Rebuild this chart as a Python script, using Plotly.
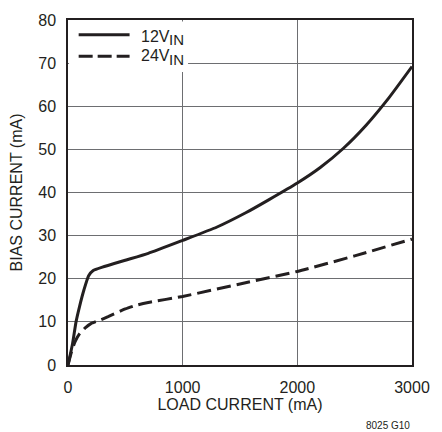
import plotly.graph_objects as go

# Data
load_12v = [0, 40, 70, 100, 140, 180, 220, 300, 500, 700, 1000, 1300, 1550, 1750, 2000, 2200, 2400, 2600, 2800, 3000]
bias_12v = [0, 5, 10, 13.5, 17.5, 20.7, 21.9, 22.7, 24.3, 25.9, 28.9, 32.0, 35.3, 38.3, 42.2, 45.8, 50.2, 55.6, 62, 69.2]

load_24v = [0, 30, 60, 100, 150, 200, 270, 350, 500, 600, 700, 1000, 1500, 2000, 2500, 3000]
bias_24v = [0, 3, 5.3, 7.2, 8.6, 9.6, 10.3, 11.2, 13, 13.9, 14.5, 15.9, 18.8, 21.7, 25.3, 29.2]

x_ticks = [0, 1000, 2000, 3000]
y_ticks = [0, 10, 20, 30, 40, 50, 60, 70, 80]
legend_main = ["12V", "24V"]
legend_sub = "IN"

FONT = "Liberation Sans, Arial, sans-serif"
INK = "#231f20"

fig = go.Figure()
fig.add_trace(go.Scatter(x=load_12v, y=bias_12v, mode="lines",
                         line=dict(color=INK, width=3, shape="spline", smoothing=0.5),
                         showlegend=False))
fig.add_trace(go.Scatter(x=load_24v, y=bias_24v, mode="lines",
                         line=dict(color=INK, width=3, dash="14px,6px", shape="spline", smoothing=0.5),
                         showlegend=False))

axis_common = dict(showgrid=True, gridcolor="#6d6e71", gridwidth=1,
                   showline=True, linecolor=INK, linewidth=1.5, mirror=True,
                   zeroline=False, ticks="outside", ticklen=7, tickcolor="rgba(0,0,0,0)",
                   tickfont=dict(family=FONT, size=16, color=INK))

fig.update_xaxes(range=[0, 3000], tickvals=x_ticks, **axis_common,
                 title=dict(text="LOAD CURRENT (mA)", font=dict(family=FONT, size=16, color=INK), standoff=1))
fig.update_yaxes(range=[0, 80], tickvals=y_ticks, **axis_common,
                 title=dict(text="BIAS CURRENT (mA)", font=dict(family=FONT, size=16, color=INK), standoff=12))

# Legend drawn manually with white background box
fig.add_shape(type="rect", xref="paper", yref="paper", x0=0.003, x1=0.349, y0=0.849, y1=0.996,
              fillcolor="white", line=dict(width=0), layer="above")
fig.add_shape(type="line", xref="paper", yref="paper", x0=0.031, x1=0.179, y0=0.957, y1=0.957,
              line=dict(color=INK, width=3), layer="above")
fig.add_shape(type="line", xref="paper", yref="paper", x0=0.031, x1=0.179, y0=0.895, y1=0.895,
              line=dict(color=INK, width=3, dash="14px,5px"), layer="above")
for name, ym in zip(legend_main, [0.9536, 0.896]):
    fig.add_annotation(xref="paper", yref="paper", x=0.205, y=ym, text=name, showarrow=False,
                       xanchor="left", yanchor="middle", font=dict(family=FONT, size=16, color=INK))
    fig.add_annotation(xref="paper", yref="paper", x=0.287, y=ym - 0.0095, text=legend_sub, showarrow=False,
                       xanchor="left", yanchor="middle", font=dict(family=FONT, size=15, color=INK))

fig.add_annotation(xref="paper", yref="paper", x=1.0, y=-0.1766, text="8025 G10", showarrow=False,
                   xanchor="right", yanchor="middle", font=dict(family=FONT, size=10, color=INK))

fig.update_layout(width=442, height=432, margin=dict(l=68, r=22, t=14, b=67),
                  plot_bgcolor="white", paper_bgcolor="white")

fig.write_html("out.html")
